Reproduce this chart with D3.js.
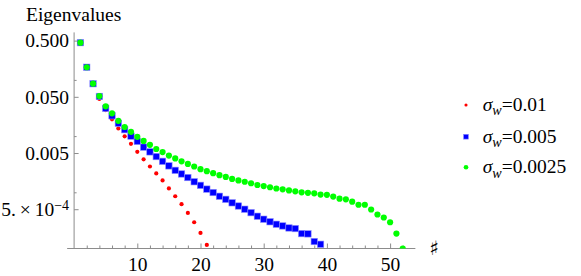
<!DOCTYPE html>
<html><head><meta charset="utf-8">
<script src="https://cdn.jsdelivr.net/npm/d3@7"></script>
<style>
body{margin:0;background:#fff;}
svg{display:block;}
</style></head>
<body>
<svg id="c" width="581" height="276" font-family="Liberation Serif"></svg>
<script>
// ---- data ----
const seriesNames = ["0.01", "0.005", "0.0025"];
const seriesColors = ["#ff0000", "#0000ff", "#00ff00"];
const redValues = [0.46, 0.168, 0.085, 0.0457, 0.0291, 0.0199, 0.0137, 0.0099, 0.0073, 0.00525,
  0.00386, 0.00288, 0.00217, 0.00163, 0.00117, 0.00085, 0.000614, 0.00043, 0.000293, 0.000189, 0.000116];
const blueValues = [0.46, 0.168, 0.0855, 0.0508, 0.0312, 0.023, 0.0169, 0.013, 0.0100, 0.00805,
  0.00637, 0.00524, 0.00432, 0.00356, 0.00295, 0.00246, 0.00212, 0.00183, 0.00154, 0.00133,
  0.00114, 0.00099, 0.00085, 0.00075, 0.00065, 0.00057, 0.0005, 0.000434, 0.000375, 0.000332,
  0.000299, 0.00027, 0.000252, 0.000232, 0.000226, 0.000184, 0.000182, 0.000133, 0.000119];
const greenValues = [0.46, 0.168, 0.0857, 0.0516, 0.0339, 0.0254, 0.0187, 0.0145, 0.0119, 0.0097,
  0.0082, 0.0070, 0.0059, 0.0052, 0.0045, 0.0040, 0.00356, 0.0032, 0.00288, 0.00258,
  0.00238, 0.00219, 0.00202, 0.00188, 0.00173, 0.00163, 0.00154, 0.00145, 0.00135, 0.00129,
  0.00123, 0.00117, 0.00113, 0.00108, 0.00104, 0.00100, 0.00098, 0.00096, 0.00091, 0.0009,
  0.00084, 0.00077, 0.00075, 0.00068, 0.0006, 0.0006, 0.000494, 0.000403, 0.000356, 0.000293,
  0.000184, 0.0001];
const xTicks = [10, 20, 30, 40, 50];
const xMinorTicks = [2, 4, 6, 8, 12, 14, 16, 18, 22, 24, 26, 28, 32, 34, 36, 38, 42, 44, 46, 48, 52];
const yTicks = [0.5, 0.05, 0.005, 0.0005];
const yTickLabels = ["0.500", "0.050", "0.005", "5.\u2009\u00D7\u200910^-4"];
const yMinorTicks = [0.1, 0.01, 0.001];
const yTitle = "Eigenvalues";
const xTitle = "\u266F";

// ---- layout ----
const svg = d3.select("#c");
const FONT = "Liberation Serif";
const FS = 19.5;
const x = d3.scaleLinear().domain([0, 54]).range([74.1, 74.1 + 54 * 6.32]);
const y = d3.scaleLog().domain([1e-4, 0.7]).range([248.5, 248.5 - Math.log10(0.7 / 1e-4) * 56.2]);
const axisColor = "#8c8c8c";

svg.append("defs").append("clipPath").attr("id", "clip")
  .append("rect").attr("x", x(-1.2)).attr("y", 0).attr("width", 400).attr("height", y(1e-4));

// axes lines
svg.append("line").attr("x1", x(-1.1)).attr("x2", x(54)).attr("y1", y(1e-4)).attr("y2", y(1e-4))
  .attr("stroke", axisColor).attr("stroke-width", 1);
svg.append("line").attr("x1", x(0)).attr("x2", x(0)).attr("y1", y(1e-4)).attr("y2", y(0.7))
  .attr("stroke", axisColor).attr("stroke-width", 1);

function styleAxis(g) {
  g.select(".domain").remove();
  g.attr("font-family", FONT).attr("font-size", FS);
  g.selectAll(".tick line").attr("stroke", axisColor);
  g.selectAll(".tick text").attr("fill", "#000").attr("font-family", FONT).attr("font-size", FS);
}

svg.append("g").attr("transform", `translate(0,${y(1e-4)})`)
  .call(d3.axisBottom(x).tickValues(xTicks).tickSizeInner(-5).tickSizeOuter(0).tickPadding(8.5))
  .call(styleAxis);
svg.append("g").attr("transform", `translate(0,${y(1e-4)})`)
  .call(d3.axisBottom(x).tickValues(xMinorTicks).tickSizeInner(-3).tickSizeOuter(0).tickFormat(""))
  .call(styleAxis);

const gy = svg.append("g").attr("transform", `translate(${x(0)},0)`)
  .call(d3.axisLeft(y).tickValues(yTicks).tickSizeInner(-4.5).tickSizeOuter(0).tickPadding(5)
    .tickFormat((d, i) => yTickLabels[i]))
  .call(styleAxis);
svg.append("g").attr("transform", `translate(${x(0)},0)`)
  .call(d3.axisLeft(y).tickValues(yMinorTicks).tickSizeInner(-2.5).tickSizeOuter(0).tickFormat(""))
  .call(styleAxis);

// superscript label
gy.selectAll(".tick text").each(function (d, i) {
  const lab = yTickLabels[i];
  if (lab.includes("^")) {
    const [base, exp] = lab.split("^");
    const t = d3.select(this).text(null);
    t.append("tspan").text(base);
    t.append("tspan").attr("dy", "-0.45em").attr("font-size", FS * 0.72).text(exp.replace("-", "\u2212"));
  }
});

// titles
svg.append("text").attr("x", 26).attr("y", 21).attr("font-family", FONT).attr("font-size", FS).text(yTitle);
svg.append("text").attr("x", 434).attr("y", 254.5).attr("text-anchor", "middle")
  .attr("font-family", "DejaVu Sans").attr("font-size", 20).text(xTitle);

// points
const plot = svg.append("g").attr("clip-path", "url(#clip)");
const allSeries = [redValues, blueValues, greenValues];
function drawMarker(g, k, cx, cy, scale) {
  if (k === 0) {
    g.append("circle").attr("cx", cx).attr("cy", cy).attr("r", 2.1 * scale).attr("fill", seriesColors[0]);
  } else if (k === 1) {
    const s = 6.4 * scale;
    g.append("rect").attr("x", cx - s / 2).attr("y", cy - s / 2).attr("width", s).attr("height", s)
      .attr("fill", seriesColors[1]).attr("stroke", "#8a8aff").attr("stroke-width", 0.6);
  } else {
    g.append("path").attr("transform", `translate(${cx},${cy})`)
      .attr("d", d3.symbol(d3.symbolCircle, 30 * scale * scale)())
      .attr("fill", seriesColors[2]);
  }
}
[0, 1, 2].forEach(k => {
  allSeries[k].forEach((v, i) => drawMarker(plot, k, x(i + 1), y(v), 1));
});
// legend
const legY = [105, 136.7, 167.3];
seriesNames.forEach((nm, k) => {
  drawMarker(svg, k, 466, legY[k], 0.75);
  const t = svg.append("text").attr("x", 482.7).attr("y", legY[k] + 6)
    .attr("font-family", FONT).attr("font-size", FS);
  t.append("tspan").attr("font-style", "italic").text("\u03C3");
  t.append("tspan").attr("font-style", "italic").attr("font-size", FS * 0.72).attr("dy", "0.3em").text("w");
  t.append("tspan").attr("dy", "-0.22em").text("=" + nm);
});
</script>
</body></html>
